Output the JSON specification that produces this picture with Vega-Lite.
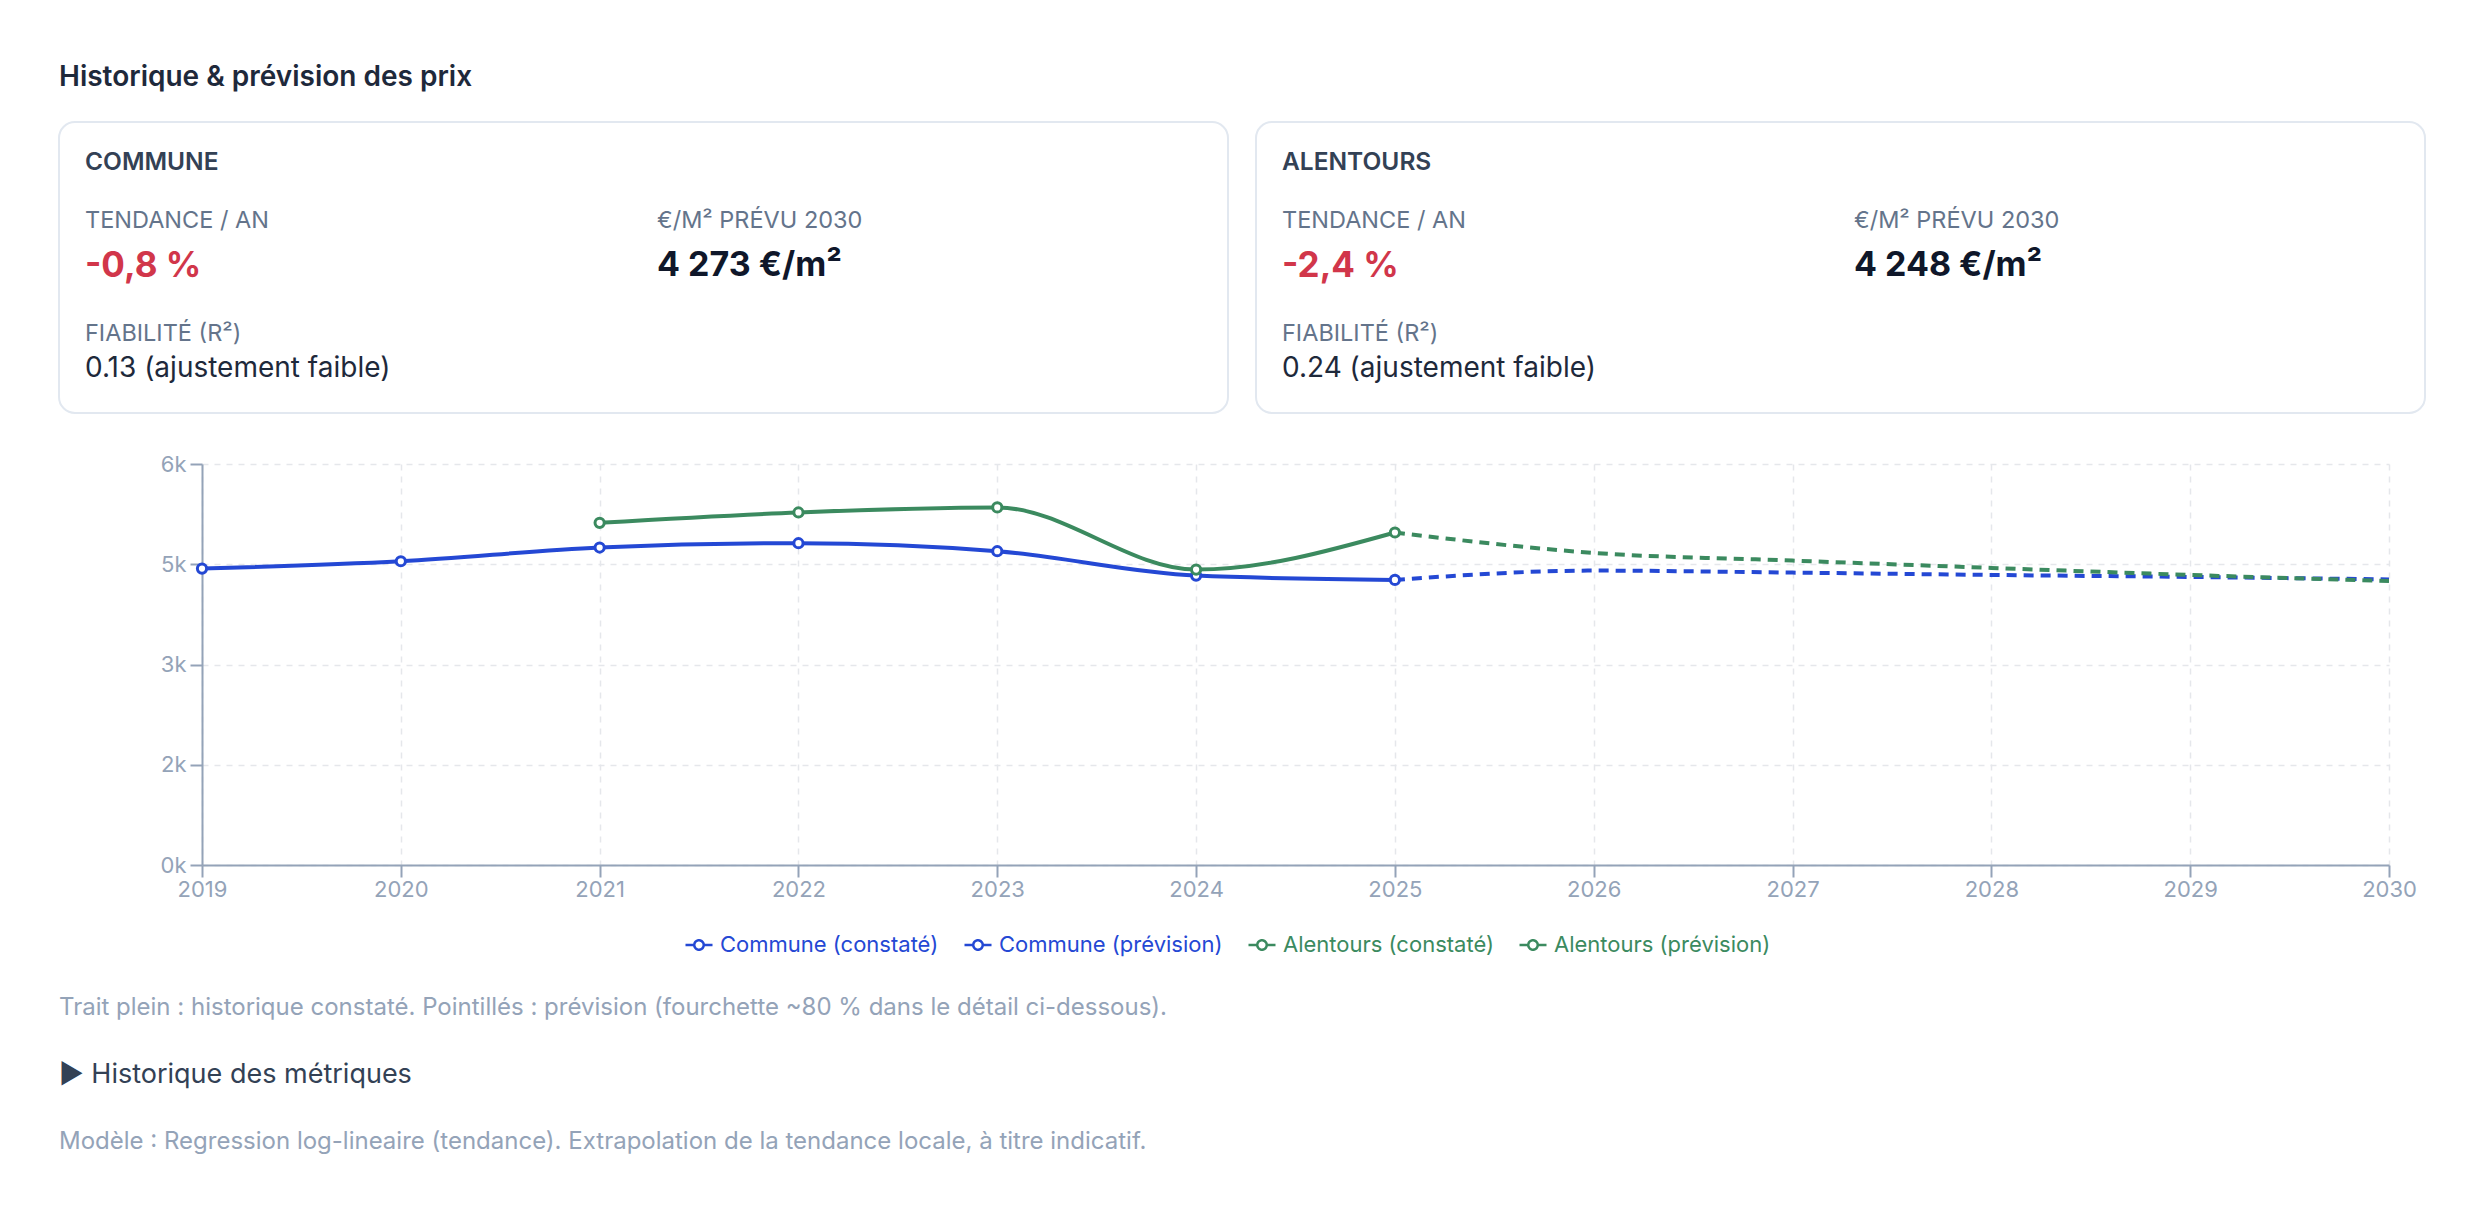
{
  "$schema": "https://vega.github.io/schema/vega-lite/v6.json",
  "background": "#ffffff",
  "padding": {"left": 58, "top": 64, "right": 58, "bottom": 40},
  "title": {"text": "Historique & prévision des prix", "anchor": "start", "frame": "group", "fontSize": 28, "fontWeight": 600, "color": "#1e293b", "font": "Inter", "offset": 29},
  "config": {
    "font": "Inter",
    "view": {"stroke": null}
  },
  "resolve": {"legend": {"color": "independent"}},
  "spacing": 39,
  "datasets": {
    "cards": [
      {"zone": "Commune", "section": "Prix", "metric": "TENDANCE / AN", "value": "-0,8 %"},
      {"zone": "Commune", "section": "Prix", "metric": "€/M² PRÉVU 2030", "value": "4 273 €/m²"},
      {"zone": "Commune", "section": "Fiabilité", "metric": "FIABILITÉ (R²)", "value": "0.13 (ajustement faible)"},
      {"zone": "Alentours", "section": "Prix", "metric": "TENDANCE / AN", "value": "-2,4 %"},
      {"zone": "Alentours", "section": "Prix", "metric": "€/M² PRÉVU 2030", "value": "4 248 €/m²"},
      {"zone": "Alentours", "section": "Fiabilité", "metric": "FIABILITÉ (R²)", "value": "0.24 (ajustement faible)"}
    ],
    "series": [
      {"year": 2019, "price": 4435, "series": "Commune (constaté)"},
      {"year": 2020, "price": 4545, "series": "Commune (constaté)"},
      {"year": 2021, "price": 4750, "series": "Commune (constaté)"},
      {"year": 2022, "price": 4815, "series": "Commune (constaté)"},
      {"year": 2023, "price": 4695, "series": "Commune (constaté)"},
      {"year": 2024, "price": 4330, "series": "Commune (constaté)"},
      {"year": 2025, "price": 4266, "series": "Commune (constaté)"},
      {"year": 2025, "price": 4266, "series": "Commune (prévision)"},
      {"year": 2026, "price": 4405, "series": "Commune (prévision)"},
      {"year": 2027, "price": 4375, "series": "Commune (prévision)"},
      {"year": 2028, "price": 4340, "series": "Commune (prévision)"},
      {"year": 2029, "price": 4310, "series": "Commune (prévision)"},
      {"year": 2030, "price": 4273, "series": "Commune (prévision)"},
      {"year": 2021, "price": 5120, "series": "Alentours (constaté)"},
      {"year": 2022, "price": 5275, "series": "Alentours (constaté)"},
      {"year": 2023, "price": 5350, "series": "Alentours (constaté)"},
      {"year": 2024, "price": 4420, "series": "Alentours (constaté)"},
      {"year": 2025, "price": 4975, "series": "Alentours (constaté)"},
      {"year": 2025, "price": 4975, "series": "Alentours (prévision)"},
      {"year": 2026, "price": 4670, "series": "Alentours (prévision)"},
      {"year": 2027, "price": 4555, "series": "Alentours (prévision)"},
      {"year": 2028, "price": 4445, "series": "Alentours (prévision)"},
      {"year": 2029, "price": 4340, "series": "Alentours (prévision)"},
      {"year": 2030, "price": 4248, "series": "Alentours (prévision)"}
    ],
    "notes": [
      {"kind": "légende", "text": "Trait plein : historique constaté. Pointillés : prévision (fourchette ~80 % dans le détail ci-dessous)."},
      {"kind": "détail", "text": "▶ Historique des métriques"},
      {"kind": "modèle", "text": "Modèle : Regression log-lineaire (tendance). Extrapolation de la tendance locale, à titre indicatif."}
    ]
  },
  "vconcat": [
    {
      "spacing": 26,
      "hconcat": [
        {
          "width": 1169, "height": 291,
          "view": {"stroke": "#e2e8f0", "strokeWidth": 2, "cornerRadius": 16, "fill": "#ffffff"},
          "data": {"name": "cards"},
          "transform": [{"filter": "datum.zone === 'Commune'"}, {"calculate": "upper(datum.zone)", "as": "zoneTitle"}],
          "encoding": {"y": {"field": "section", "type": "nominal", "scale": {"domain": ["Prix", "Fiabilité"], "range": [99, 212], "padding": 0}, "axis": null}},
          "layer": [
            {"transform": [{"filter": "datum.metric === 'TENDANCE / AN'"}],
             "mark": {"type": "text", "align": "left", "baseline": "middle", "dy": -58, "fontSize": 24.5, "fontWeight": 600, "color": "#334155"},
             "encoding": {"x": {"datum": "TENDANCE / AN", "type": "nominal", "scale": {"domain": ["TENDANCE / AN", "€/M² PRÉVU 2030"], "range": [26, 598], "padding": 0}, "axis": null}, "text": {"field": "zoneTitle"}}},
            {"transform": [{"filter": "datum.section === 'Prix'"}],
             "mark": {"type": "text", "align": "left", "baseline": "middle", "fontSize": 23.5, "color": "#64748b"},
             "encoding": {"x": {"field": "metric", "type": "nominal", "axis": null}, "text": {"field": "metric"}}},
            {"transform": [{"filter": "datum.metric === 'TENDANCE / AN'"}],
             "mark": {"type": "text", "align": "left", "baseline": "middle", "dy": 45, "fontSize": 35, "fontWeight": 700, "color": "#d1364a"},
             "encoding": {"x": {"field": "metric", "type": "nominal", "axis": null}, "text": {"field": "value"}}},
            {"transform": [{"filter": "datum.metric === '€/M² PRÉVU 2030'"}],
             "mark": {"type": "text", "align": "left", "baseline": "middle", "dy": 45, "fontSize": 34, "fontWeight": 700, "color": "#0f172a"},
             "encoding": {"x": {"field": "metric", "type": "nominal", "axis": null}, "text": {"field": "value"}}},
            {"transform": [{"filter": "datum.section === 'Fiabilité'"}],
             "mark": {"type": "text", "align": "left", "baseline": "middle", "fontSize": 23.5, "color": "#64748b"},
             "encoding": {"x": {"datum": "TENDANCE / AN", "type": "nominal", "axis": null}, "text": {"field": "metric"}}},
            {"transform": [{"filter": "datum.section === 'Fiabilité'"}],
             "mark": {"type": "text", "align": "left", "baseline": "middle", "dy": 35, "fontSize": 28, "color": "#1e293b"},
             "encoding": {"x": {"datum": "TENDANCE / AN", "type": "nominal", "axis": null}, "text": {"field": "value"}}}
          ]
        },
        {
          "width": 1169, "height": 291,
          "view": {"stroke": "#e2e8f0", "strokeWidth": 2, "cornerRadius": 16, "fill": "#ffffff"},
          "data": {"name": "cards"},
          "transform": [{"filter": "datum.zone === 'Alentours'"}, {"calculate": "upper(datum.zone)", "as": "zoneTitle"}],
          "encoding": {"y": {"field": "section", "type": "nominal", "scale": {"domain": ["Prix", "Fiabilité"], "range": [99, 212], "padding": 0}, "axis": null}},
          "layer": [
            {"transform": [{"filter": "datum.metric === 'TENDANCE / AN'"}],
             "mark": {"type": "text", "align": "left", "baseline": "middle", "dy": -58, "fontSize": 24.5, "fontWeight": 600, "color": "#334155"},
             "encoding": {"x": {"datum": "TENDANCE / AN", "type": "nominal", "scale": {"domain": ["TENDANCE / AN", "€/M² PRÉVU 2030"], "range": [26, 598], "padding": 0}, "axis": null}, "text": {"field": "zoneTitle"}}},
            {"transform": [{"filter": "datum.section === 'Prix'"}],
             "mark": {"type": "text", "align": "left", "baseline": "middle", "fontSize": 23.5, "color": "#64748b"},
             "encoding": {"x": {"field": "metric", "type": "nominal", "axis": null}, "text": {"field": "metric"}}},
            {"transform": [{"filter": "datum.metric === 'TENDANCE / AN'"}],
             "mark": {"type": "text", "align": "left", "baseline": "middle", "dy": 45, "fontSize": 35, "fontWeight": 700, "color": "#d1364a"},
             "encoding": {"x": {"field": "metric", "type": "nominal", "axis": null}, "text": {"field": "value"}}},
            {"transform": [{"filter": "datum.metric === '€/M² PRÉVU 2030'"}],
             "mark": {"type": "text", "align": "left", "baseline": "middle", "dy": 45, "fontSize": 34, "fontWeight": 700, "color": "#0f172a"},
             "encoding": {"x": {"field": "metric", "type": "nominal", "axis": null}, "text": {"field": "value"}}},
            {"transform": [{"filter": "datum.section === 'Fiabilité'"}],
             "mark": {"type": "text", "align": "left", "baseline": "middle", "fontSize": 23.5, "color": "#64748b"},
             "encoding": {"x": {"datum": "TENDANCE / AN", "type": "nominal", "axis": null}, "text": {"field": "metric"}}},
            {"transform": [{"filter": "datum.section === 'Fiabilité'"}],
             "mark": {"type": "text", "align": "left", "baseline": "middle", "dy": 35, "fontSize": 28, "color": "#1e293b"},
             "encoding": {"x": {"datum": "TENDANCE / AN", "type": "nominal", "axis": null}, "text": {"field": "value"}}}
          ]
        }
      ]
    },
    {
      "width": 2330, "height": 401,
      "view": {"stroke": null},
      "data": {"name": "series"},
      "encoding": {
        "x": {"field": "year", "type": "quantitative", "scale": {"domain": [2019, 2030], "range": [143, 2330], "nice": false, "zero": false},
          "axis": {"values": [2019, 2020, 2021, 2022, 2023, 2024, 2025, 2026, 2027, 2028, 2029, 2030], "format": "d", "title": null, "grid": true, "gridColor": "#e5e7eb", "gridDash": [6, 6], "gridWidth": 1.5, "domainColor": "#94a3b8", "domainWidth": 2, "tickColor": "#94a3b8", "tickWidth": 2, "tickSize": 12, "labelColor": "#94a3b8", "labelFontSize": 22, "labelPadding": 2, "labelFlush": false, "labelOverlap": false}},
        "y": {"field": "price", "type": "quantitative", "scale": {"domain": [0, 6000], "nice": false},
          "axis": {"values": [0, 1500, 3000, 4500, 6000], "labelExpr": "round(datum.value / 1000) + 'k'", "title": null, "offset": -143, "grid": true, "gridColor": "#e5e7eb", "gridDash": [6, 6], "gridWidth": 1.5, "domainColor": "#94a3b8", "domainWidth": 2, "tickColor": "#94a3b8", "tickWidth": 2, "tickSize": 12, "labelColor": "#94a3b8", "labelFontSize": 22, "labelPadding": 4, "labelFlush": false}},
        "color": {"field": "series", "type": "nominal",
          "scale": {"domain": ["Commune (constaté)", "Commune (prévision)", "Alentours (constaté)", "Alentours (prévision)"], "range": ["#2448d4", "#2448d4", "#3b8a5f", "#3b8a5f"]},
          "legend": {"orient": "none", "legendX": 625, "legendY": 466, "direction": "horizontal", "title": null, "labelFontSize": 22, "labelLimit": 0, "labelOffset": 6, "columnPadding": 20, "symbolSize": 729, "symbolStrokeWidth": 2.5,
            "symbolType": "M-1,0L-0.35,0M0.35,0L1,0M0.35,0A0.35,0.35,0,1,1,-0.35,0A0.35,0.35,0,1,1,0.35,0",
            "encode": {
              "labels": {"update": {"fill": [{"test": "indexof(datum.value, 'Commune') >= 0", "value": "#2448d4"}, {"value": "#3b8a5f"}]}},
              "symbols": {"update": {"fill": {"value": "#ffffff"}, "fillOpacity": {"value": 1}, "strokeDash": {"value": [1, 0]}, "strokeWidth": {"value": 2.5}, "shape": {"value": "M-1,0L-0.35,0M0.35,0L1,0M0.35,0A0.35,0.35,0,1,1,-0.35,0A0.35,0.35,0,1,1,0.35,0"}, "stroke": [{"test": "indexof(datum.value, 'Commune') >= 0", "value": "#2448d4"}, {"value": "#3b8a5f"}]}}
            }}}
      },
      "layer": [
        {"transform": [{"filter": "indexof(datum.series, 'constaté') >= 0"}],
         "mark": {"type": "line", "interpolate": "monotone", "strokeWidth": 4}},
        {"transform": [{"filter": "indexof(datum.series, 'prévision') >= 0"}],
         "mark": {"type": "line", "interpolate": "monotone", "strokeWidth": 4, "strokeDash": [10, 7]}},
        {"transform": [{"filter": "indexof(datum.series, 'constaté') >= 0"}],
         "mark": {"type": "point", "filled": false, "fill": "#ffffff", "fillOpacity": 1, "opacity": 1, "size": 85, "strokeWidth": 3}}
      ]
    },
    {
      "width": 2363, "height": 170,
      "view": {"stroke": null},
      "data": {"name": "notes"},
      "encoding": {
        "x": {"field": "kind", "type": "nominal", "scale": {"range": [0, 0]}, "axis": null},
        "y": {"field": "kind", "type": "nominal", "scale": {"domain": ["légende", "détail", "modèle"], "range": [13, 147], "padding": 0}, "axis": null},
        "text": {"field": "text"}
      },
      "layer": [
        {"transform": [{"filter": "datum.kind !== 'détail'"}],
         "mark": {"type": "text", "align": "left", "baseline": "middle", "fontSize": 24, "color": "#94a3b8"}},
        {"transform": [{"filter": "datum.kind === 'détail'"}],
         "mark": {"type": "text", "align": "left", "baseline": "middle", "fontSize": 27, "color": "#334155"}}
      ]
    }
  ]
}
